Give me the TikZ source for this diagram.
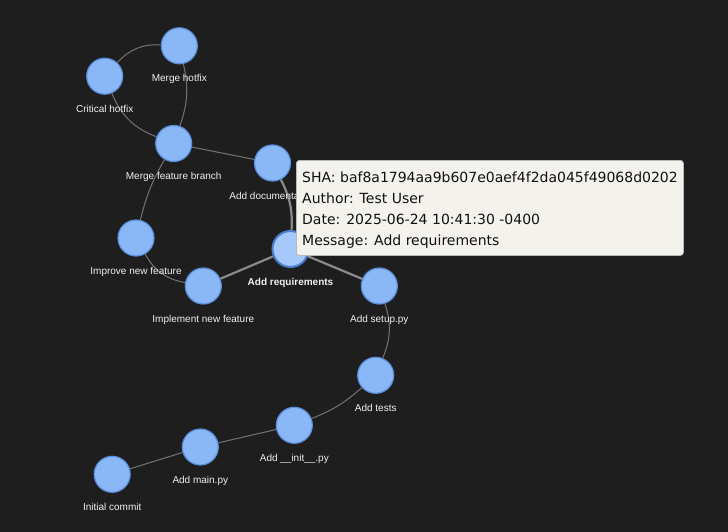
\documentclass[tikz,border=0pt]{standalone}
\usepackage{fontspec}
\setmainfont{Liberation Sans}
\newfontfamily\tipfont{DejaVu Sans}
\usetikzlibrary{backgrounds}
\definecolor{bgc}{HTML}{1E1E1E}
\definecolor{nodefill}{HTML}{8AB8F7}
\definecolor{nodeline}{HTML}{5A8ED8}
\definecolor{hifill}{HTML}{A4C9FA}
\definecolor{hiline}{HTML}{4A7FD0}
\definecolor{edgec}{HTML}{747474}
\definecolor{hiedge}{HTML}{8A8A8A}
\definecolor{labc}{HTML}{F0F0F0}
\definecolor{tipfill}{HTML}{F4F2EC}
\definecolor{tipline}{HTML}{B8B8B8}
\definecolor{tiptext}{HTML}{111111}
\tikzset{
  commit/.style={circle, minimum size=36pt, inner sep=0pt, fill=nodefill, draw=nodeline, line width=1.2pt},
  hicommit/.style={commit, fill=hifill, draw=hiline, line width=2pt},
  lab/.style={anchor=base, inner sep=0pt, text=labc, font=\fontsize{10}{12}\selectfont},
  edge/.style={draw=edgec, line width=1pt},
  hedge/.style={draw=hiedge, line width=2.2pt},
  tipbox/.style={fill=tipfill, draw=tipline, line width=0.8pt, rounded corners=3pt},
  tipline/.style={anchor=base west, inner sep=0pt, text=tiptext, font=\tipfont\fontsize{14}{16}\selectfont}
}
\newcommand{\commitnode}[5][commit]{%
  \node[#1] (#2) at (#3,#4) {};
  \node[lab] (#2-l) at ([yshift=-36pt]#2.center) {#5};
}
\begin{document}
\begin{tikzpicture}[x=1pt, y=-1pt]
\begin{scope}[on background layer]
  \fill[bgc] (0,0) rectangle (728,532);
\end{scope}
\useasboundingbox (0,0) rectangle (728,532);

\commitnode{c1}{112.2}{474.3}{Initial commit}
\commitnode{c2}{200.3}{447}{Add main.py}
\commitnode{c3}{294.3}{425.3}{Add \_\_init\_\_.py}
\commitnode{c4}{375.7}{375.3}{Add tests}
\commitnode{c5}{379.3}{286}{Add setup.py}
\commitnode{c7}{203.3}{286}{Implement new feature}
\commitnode{c8}{136}{238}{Improve new feature}
\commitnode{c9}{173.7}{143.5}{Merge feature branch}
\commitnode{c10}{272.5}{163}{Add documentation}
\commitnode{c11}{104.7}{76.2}{Critical hotfix}
\commitnode{c12}{179.3}{45.8}{Merge hotfix}
\commitnode[hicommit]{c6}{290.5}{249}{\textbf{Add requirements}}

\begin{scope}[on background layer]
  \draw[edge] (c1) -- (c2);
  \draw[edge] (c2) -- (c3);
  \draw[edge] (c3) to[bend right=10] (c4);
  \draw[edge] (c4) to[bend right=20] (c5);
  \draw[hedge] (c5) -- (c6);
  \draw[hedge] (c6) -- (c7);
  \draw[hedge] (c10) to[bend left=15] (c6);
  \draw[edge] (c8) to[bend right=25] (c7);
  \draw[edge] (c9) to[bend right=8] (c8);
  \draw[edge] (c9) -- (c10);
  \draw[edge] (c11) to[bend right=23] (c9);
  \draw[edge] (c12) to[bend left=16] (c9);
  \draw[edge] (c11) to[bend left=25] (c12);
\end{scope}

\node[tipbox, minimum width=387pt, minimum height=95pt, anchor=north west, inner sep=0pt] (tip) at (296,160) {};
\node[tipline] (t1) at (302,182) {SHA: baf8a1794aa9b607e0aef4f2da045f49068d0202};
\node[tipline] (t2) at (302,203) {Author: Test User};
\node[tipline] (t3) at (302,224) {Date: 2025-06-24 10:41:30 -0400};
\node[tipline] (t4) at (302,245) {Message: Add requirements};
\end{tikzpicture}
\end{document}
